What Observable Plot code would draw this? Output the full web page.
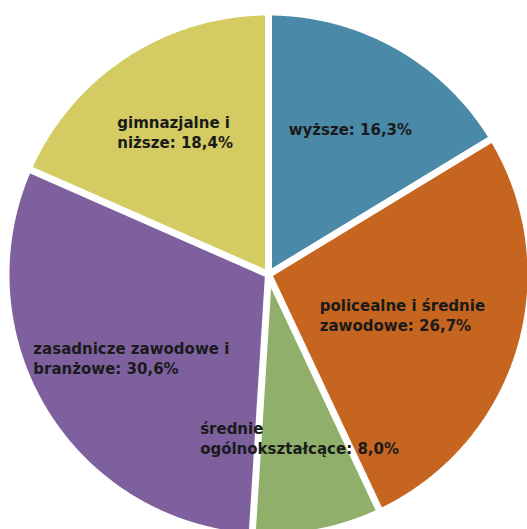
<!DOCTYPE html>
<html><head><meta charset="utf-8">
<script src="https://cdn.jsdelivr.net/npm/d3@7"></script>
<script src="https://cdn.jsdelivr.net/npm/@observablehq/plot@0.6"></script>
<style>html,body{margin:0;padding:0;background:#fff;overflow:hidden}</style>
</head><body><div id="chart"></div>
<script>
// ---- data ----
const categories = ["wyższe", "policealne i średnie zawodowe", "średnie ogólnokształcące", "zasadnicze zawodowe i branżowe", "gimnazjalne i niższe"];
const shares = [16.3, 26.7, 8.0, 30.6, 18.4];
const labels = ["wyższe: 16,3%", "policealne i średnie\nzawodowe: 26,7%", "średnie\nogólnokształcące: 8,0%", "zasadnicze zawodowe i\nbranżowe: 30,6%", "gimnazjalne i\nniższe: 18,4%"];
const colors = ["#4a8aa8", "#c5651f", "#8faf6a", "#7e609e", "#d4cb62"];

// ---- layout ----
const W = 527, H = 529, CX = 268, CY = 274, R = 259;
const labelRadius = [0.645, 0.54, 0.64, 0.62, 0.66];
const FONT_SIZE = 15, FONT = "DejaVu Sans", WEIGHT = "bold";

const arcs = d3.pie().sort(null).value(d => d)(shares);

// slice polygons
const poly = [];
arcs.forEach((a, i) => {
  poly.push({cat: categories[i], x: 0, y: 0});
  const n = Math.max(2, Math.ceil((a.endAngle - a.startAngle) / 0.005));
  for (let k = 0; k <= n; k++) {
    const t = a.startAngle + (a.endAngle - a.startAngle) * k / n;
    poly.push({cat: categories[i], x: Math.sin(t), y: Math.cos(t)});
  }
});

// separators
const seps = arcs.map(a => ({x2: Math.sin(a.startAngle) * 1.05, y2: Math.cos(a.startAngle) * 1.05}));

// labels: box centred at the slice centroid direction, lines left-aligned
const ctx = document.createElement("canvas").getContext("2d");
ctx.font = `${WEIGHT} ${FONT_SIZE}px "${FONT}"`;
const labelData = arcs.map((a, i) => {
  const mid = (a.startAngle + a.endAngle) / 2;
  const w = Math.max(...labels[i].split("\n").map(s => ctx.measureText(s).width));
  const r = labelRadius[i];
  return {x: Math.sin(mid) * r - (w / 2) / R, y: Math.cos(mid) * r, text: labels[i]};
});

const chart = Plot.plot({
  width: W, height: H,
  margin: 0,
  x: {domain: [-1, 1], range: [CX - R, CX + R], axis: null},
  y: {domain: [-1, 1], range: [CY + R, CY - R], axis: null},
  color: {domain: categories, range: colors},
  style: {background: "white", overflow: "hidden"},
  marks: [
    Plot.line(poly, {x: "x", y: "y", z: "cat", fill: "cat", stroke: "none", curve: "linear-closed"}),
    Plot.link(seps, {x1: 0, y1: 0, x2: "x2", y2: "y2", stroke: "white", strokeWidth: 7, strokeLinecap: "butt"}),
    Plot.dot([{x: 0, y: 0}], {x: "x", y: "y", r: 3.5, fill: "white", stroke: "none"}),
    Plot.text(labelData, {x: "x", y: "y", text: "text", textAnchor: "start", lineAnchor: "middle", lineHeight: 1.33,
      fontSize: FONT_SIZE, fontFamily: FONT, fontWeight: WEIGHT, fill: "#1a1a1a"})
  ]
});
document.getElementById("chart").appendChild(chart);
</script>
</body></html>
